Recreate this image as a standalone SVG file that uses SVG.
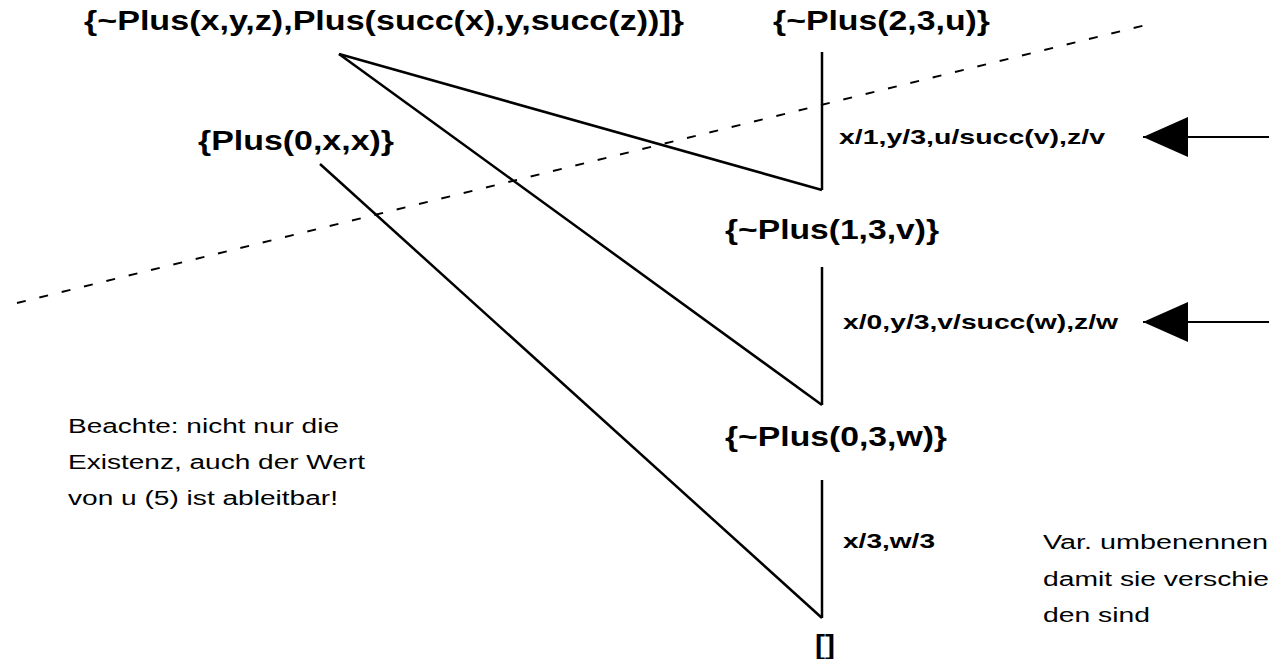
<svg xmlns="http://www.w3.org/2000/svg" width="1269" height="659" viewBox="0 0 1269 659">
<defs>
<style>
.node{font-family:"Liberation Sans",Arial,Helvetica,sans-serif;font-weight:bold;font-size:27px;fill:#000}
.lbl{font-family:"Liberation Sans",Arial,Helvetica,sans-serif;font-weight:bold;font-size:21px;fill:#000}
.note{font-family:"Liberation Sans",Arial,Helvetica,sans-serif;font-size:20px;fill:#000}
.edge{stroke:#000;stroke-width:2.5;fill:none}
.dash{stroke:#000;stroke-width:2;fill:none;stroke-dasharray:9 14}
.arr{stroke:#000;stroke-width:2;fill:none}
</style>
<marker id="ah" markerUnits="userSpaceOnUse" viewBox="0 0 45 40" refX="45" refY="20" markerWidth="45" markerHeight="40" orient="auto">
<path d="M0,0 L45,20 L0,40 z" fill="#000"/>
</marker>
</defs>
<rect width="1269" height="659" fill="#fff"/>
<g id="connectors">
<line class="edge" x1="339" y1="54" x2="822" y2="190"/>
<line class="edge" x1="822" y1="52" x2="822" y2="190"/>
<line class="edge" x1="339" y1="54" x2="822" y2="405"/>
<line class="edge" x1="822" y1="267" x2="822" y2="405"/>
<line class="edge" x1="320" y1="164" x2="822" y2="618"/>
<line class="edge" x1="822" y1="480" x2="822" y2="618"/>
<line class="dash" x1="17" y1="303" x2="1146" y2="25"/>
<line class="arr" x1="1269" y1="137" x2="1143" y2="137" marker-end="url(#ah)"/>
<line class="arr" x1="1269" y1="322" x2="1143" y2="322" marker-end="url(#ah)"/>
</g>
<g id="n-clause">
<text class="node" x="84" y="30" textLength="600" lengthAdjust="spacingAndGlyphs">{~Plus(x,y,z),Plus(succ(x),y,succ(z))]}</text>
</g>
<g id="n-plus0xx">
<text class="node" x="198" y="150" textLength="196" lengthAdjust="spacingAndGlyphs">{Plus(0,x,x)}</text>
</g>
<g id="n-plus23u">
<text class="node" x="773" y="30" textLength="217" lengthAdjust="spacingAndGlyphs">{~Plus(2,3,u)}</text>
</g>
<g id="n-plus13v">
<text class="node" x="725" y="239" textLength="214" lengthAdjust="spacingAndGlyphs">{~Plus(1,3,v)}</text>
</g>
<g id="n-plus03w">
<text class="node" x="725" y="446" textLength="222" lengthAdjust="spacingAndGlyphs">{~Plus(0,3,w)}</text>
</g>
<g id="n-empty">
<text class="node" x="815" y="654" textLength="20" lengthAdjust="spacingAndGlyphs">[]</text>
</g>
<g id="labels">
<text class="lbl" x="839" y="144" textLength="266" lengthAdjust="spacingAndGlyphs">x/1,y/3,u/succ(v),z/v</text>
<text class="lbl" x="843" y="329" textLength="275" lengthAdjust="spacingAndGlyphs">x/0,y/3,v/succ(w),z/w</text>
<text class="lbl" x="843" y="548" textLength="92" lengthAdjust="spacingAndGlyphs">x/3,w/3</text>
</g>
<g id="note-left">
<text class="note" x="68" y="433" textLength="271" lengthAdjust="spacingAndGlyphs">Beachte: nicht nur die</text>
<text class="note" x="68" y="469" textLength="297" lengthAdjust="spacingAndGlyphs">Existenz, auch der Wert</text>
<text class="note" x="68" y="505" textLength="270" lengthAdjust="spacingAndGlyphs">von u (5) ist ableitbar!</text>
</g>
<g id="note-right">
<text class="note" x="1043" y="549" textLength="225" lengthAdjust="spacingAndGlyphs">Var. umbenennen</text>
<text class="note" x="1043" y="586" textLength="226" lengthAdjust="spacingAndGlyphs">damit sie verschie</text>
<text class="note" x="1043" y="622" textLength="107" lengthAdjust="spacingAndGlyphs">den sind</text>
</g>
</svg>
